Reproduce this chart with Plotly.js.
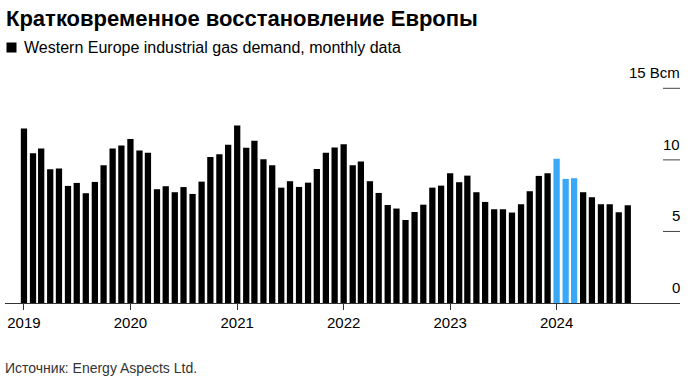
<!DOCTYPE html>
<html>
<head>
<meta charset="utf-8">
<script src="https://cdn.plot.ly/plotly-3.0.1.min.js"></script>
<style>html,body{margin:0;padding:0;background:#fff;}#chart{width:697px;height:389px;}</style>
</head>
<body>
<div id="chart"></div>
<script>
// ---- data ----
const startYear = 2019;
const demand = [
  12.2, 10.47, 10.8, 9.35, 9.4, 8.18, 8.39, 7.67, 8.46, 9.63, 10.79, 11.0,
  11.45, 10.65, 10.5, 7.95, 8.16, 7.74, 8.1, 7.62, 8.48, 10.2, 10.4, 11.05,
  12.4, 10.84, 11.33, 10.05, 9.63, 8.06, 8.51, 8.11, 8.41, 9.37, 10.49, 10.86,
  11.1, 9.63, 9.88, 8.51, 7.69, 6.85, 6.6, 5.8, 6.36, 6.87, 8.06, 8.2,
  9.07, 8.44, 8.9, 7.74, 7.06, 6.55, 6.55, 6.32, 6.9, 7.81, 8.88, 9.07,
  10.07, 8.67, 8.72, 7.74, 7.39, 6.9, 6.9, 6.34, 6.83
];
const highlightMonths = ['2024-01-01', '2024-02-01', '2024-03-01'];
const yearTicks = ['2019', '2020', '2021', '2022', '2023', '2024'];
const yTickVals = [0, 5, 10, 15];
const yTickText = ['0', '5', '10', '15 Bcm'];
const titleText = 'Кратковременное восстановление Европы';
const subtitleText = 'Western Europe industrial gas demand, monthly data';
const sourceText = 'Источник: Energy Aspects Ltd.';

// ---- build ----
const months = demand.map((_, i) => {
  const y = startYear + Math.floor(i / 12);
  const m = (i % 12) + 1;
  return y + '-' + String(m).padStart(2, '0') + '-01';
});
const blackX = [], blackY = [], blueX = [], blueY = [];
months.forEach((d, i) => {
  if (highlightMonths.includes(d)) { blueX.push(d); blueY.push(demand[i]); }
  else { blackX.push(d); blackY.push(demand[i]); }
});

const W = 697, H = 389;
const M = {l: 5, r: 17, t: 74, b: 86};
const pw = W - M.l - M.r, ph = H - M.t - M.b;
const px = x => (x - M.l) / pw;
const py = y => (H - M.b - y) / ph;

const FONT = '"Liberation Sans", Arial, Helvetica, sans-serif';
const DAY = 86400000;
const barW = 21.5 * DAY;

const traces = [
  {type: 'bar', x: blackX, y: blackY, marker: {color: '#000000'}, width: barW, hoverinfo: 'x+y', showlegend: false},
  {type: 'bar', x: blueX, y: blueY, marker: {color: '#3aa8f8'}, width: barW, hoverinfo: 'x+y', showlegend: false}
];

const shapes = [
  {type: 'rect', xref: 'paper', yref: 'paper', x0: px(6.5), x1: px(16.5), y0: py(52.5), y1: py(42.5),
   fillcolor: '#000', line: {width: 0}}
];
const annotations = [
  {text: '<b>' + titleText + '</b>', xref: 'paper', yref: 'paper', x: px(4), y: py(18), xanchor: 'left', yanchor: 'middle',
   showarrow: false, font: {family: FONT, size: 22, color: '#000'}},
  {text: subtitleText, xref: 'paper', yref: 'paper', x: px(22), y: py(47.5), xanchor: 'left', yanchor: 'middle',
   showarrow: false, font: {family: FONT, size: 16, color: '#000'}},
  {text: sourceText, xref: 'paper', yref: 'paper', x: px(3), y: py(368), xanchor: 'left', yanchor: 'middle',
   showarrow: false, font: {family: FONT, size: 14, color: '#333'}}
];
yTickVals.forEach((v, i) => {
  if (v !== 0) {
    shapes.push({type: 'line', xref: 'paper', yref: 'y', x0: px(663), x1: 1, y0: v, y1: v,
      line: {color: '#444', width: 1}});
  }
  annotations.push({text: yTickText[i], xref: 'paper', yref: 'y', x: 1, y: v, xanchor: 'right', yanchor: 'bottom',
    xshift: 2, yshift: 5, showarrow: false, font: {family: FONT, size: 15, color: '#000'}});
});

const layout = {
  width: W, height: H,
  margin: M,
  paper_bgcolor: '#fff', plot_bgcolor: '#fff',
  barmode: 'overlay',
  showlegend: false,
  font: {family: FONT, size: 15, color: '#000'},
  xaxis: {
    type: 'date',
    range: ['2018-10-28', '2025-02-27'],
    tickvals: yearTicks.map(y => y + '-01-01'),
    ticktext: yearTicks,
    ticks: 'outside', ticklen: 6, tickcolor: '#333', tickwidth: 1,
    showline: true, linecolor: '#333', linewidth: 1,
    showgrid: false, zeroline: false,
    tickfont: {family: FONT, size: 15, color: '#000'}
  },
  yaxis: {
    range: [0, 16],
    showgrid: false, zeroline: false, showline: false,
    showticklabels: false, ticks: ''
  },
  shapes: shapes,
  annotations: annotations
};

Plotly.newPlot('chart', traces, layout, {displayModeBar: false, staticPlot: true});
</script>
</body>
</html>
